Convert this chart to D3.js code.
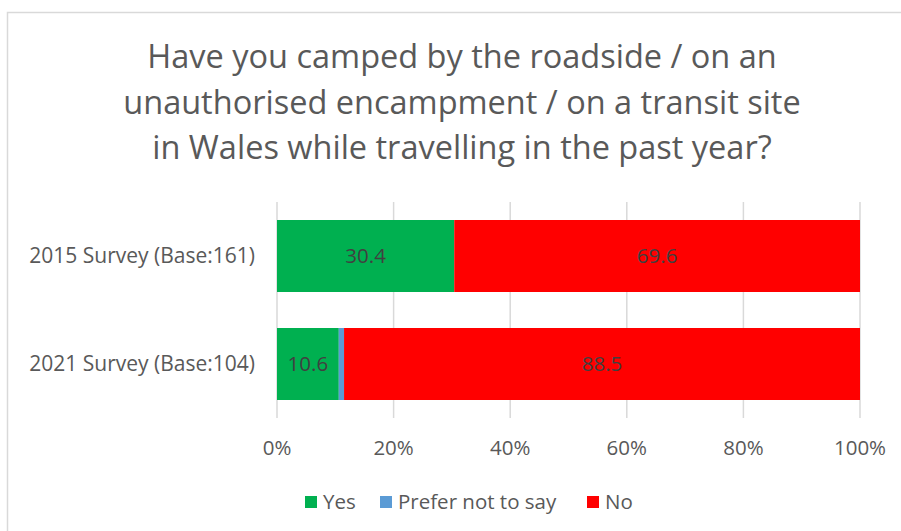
<!DOCTYPE html>
<html>
<head>
<meta charset="utf-8">
<script src="https://cdn.jsdelivr.net/npm/d3@7"></script>
<style>
  body { margin: 0; background: #fff; }
  text { font-family: "Open Sans", sans-serif; }
</style>
</head>
<body>
<div id="chart"></div>
<script>
var titleLines = ["Have you camped by the roadside / on an",
                  "unauthorised encampment / on a transit site",
                  "in Wales while travelling in the past year?"];

var surveys = ["2015 Survey (Base:161)", "2021 Survey (Base:104)"];
var seriesNames = ["Yes", "Prefer not to say", "No"];
var yesVals = [30.4, 10.6];
var preferVals = [0, 0.9];
var noVals = [69.6, 88.5];
var tickVals = [0, 20, 40, 60, 80, 100];

var colors = ["#00B050", "#5B9BD5", "#FF0000"];

var width = 901, height = 531;

var svg = d3.select("#chart").append("svg")
    .attr("width", width)
    .attr("height", height);

// chart frame
svg.append("rect")
    .attr("x", 7.5).attr("y", 12.5)
    .attr("width", 920).attr("height", 540)
    .attr("fill", "none")
    .attr("stroke", "#d9d9d9")
    .attr("stroke-width", 1.5);

// title
svg.append("g").selectAll("text")
    .data(titleLines)
    .enter().append("text")
    .attr("x", 462)
    .attr("y", function(d, i){ return 68 + i * 45.5; })
    .attr("text-anchor", "middle")
    .attr("font-size", "32.5px")
    .attr("fill", "#595959")
    .text(function(d){ return d; });

var x = d3.scaleLinear().domain([0, 100]).range([277, 860]);
var y = d3.scaleBand().domain(surveys).range([202, 418]).paddingInner(1/3).paddingOuter(1/6);

// gridlines
svg.append("g").selectAll("line")
    .data(tickVals)
    .enter().append("line")
    .attr("x1", function(d){ return x(d); })
    .attr("x2", function(d){ return x(d); })
    .attr("y1", 202).attr("y2", 418)
    .attr("stroke", "#d9d9d9")
    .attr("stroke-width", 1.5);

// stacked data
var rows = surveys.map(function(s, i){
    return { survey: s, "Yes": yesVals[i], "Prefer not to say": preferVals[i], "No": noVals[i] };
});
var stacked = d3.stack().keys(seriesNames)(rows);

var layers = svg.append("g").selectAll("g")
    .data(stacked)
    .enter().append("g")
    .attr("fill", function(d, i){ return colors[i]; });

layers.selectAll("rect")
    .data(function(d){ return d; })
    .enter().append("rect")
    .attr("x", function(d){ return x(d[0]); })
    .attr("width", function(d){ return x(d[1]) - x(d[0]); })
    .attr("y", function(d){ return y(d.data.survey); })
    .attr("height", y.bandwidth());

// data labels (skip tiny segments)
layers.selectAll("text")
    .data(function(d){ return d.filter(function(p){ return p[1] - p[0] >= 5; }); })
    .enter().append("text")
    .attr("x", function(d){ return (x(d[0]) + x(d[1])) / 2; })
    .attr("y", function(d){ return y(d.data.survey) + y.bandwidth() / 2 + 7; })
    .attr("text-anchor", "middle")
    .attr("font-size", "20.5px")
    .attr("fill", "#404040")
    .text(function(d){ return (d[1] - d[0]).toFixed(1); });

// category labels
svg.append("g").selectAll("text")
    .data(surveys)
    .enter().append("text")
    .attr("x", 255)
    .attr("y", function(d){ return y(d) + y.bandwidth() / 2 + 7; })
    .attr("text-anchor", "end")
    .attr("font-size", "21px")
    .attr("fill", "#595959")
    .text(function(d){ return d; });

// x tick labels
svg.append("g").selectAll("text")
    .data(tickVals)
    .enter().append("text")
    .attr("x", function(d){ return x(d); })
    .attr("y", 455)
    .attr("text-anchor", "middle")
    .attr("font-size", "20.5px")
    .attr("fill", "#595959")
    .text(function(d){ return d + "%"; });

// legend
var legendX = [305, 380, 587];
var leg = svg.append("g").selectAll("g")
    .data(seriesNames)
    .enter().append("g")
    .attr("transform", function(d, i){ return "translate(" + legendX[i] + ",496)"; });

leg.append("rect")
    .attr("width", 12).attr("height", 12)
    .attr("fill", function(d, i){ return colors[i]; });

leg.append("text")
    .attr("x", 18)
    .attr("y", 13)
    .attr("font-size", "20.5px")
    .attr("fill", "#595959")
    .text(function(d){ return d; });
</script>
</body>
</html>
